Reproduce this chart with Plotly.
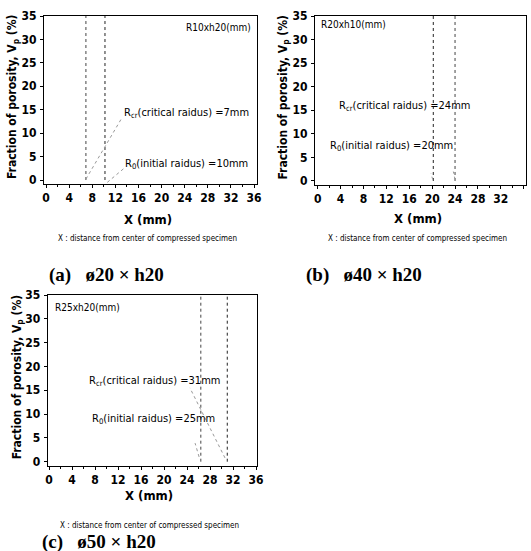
import plotly.graph_objects as go

# ---------------- data ----------------
panel_ids = ["a", "b", "c"]
specimen_labels = ["R10xh20(mm)", "R20xh10(mm)", "R25xh20(mm)"]
captions = ["(a)\u00a0\u00a0\u00a0ø20\u00a0×\u00a0h20", "(b)\u00a0\u00a0\u00a0ø40\u00a0×\u00a0h20",
            "(c)\u00a0\u00a0\u00a0ø50\u00a0×\u00a0h20"]
critical_radius = [7, 24, 31]      # mm, from the labels
initial_radius = [10, 20, 25]      # mm, from the labels
# positions of the dotted vertical lines as drawn
critical_line_x = [6.9, 24.0, 26.4]
initial_line_x = [10.2, 20.2, 31.0]
line_y = [0, 35]
# leader lines (x pairs, y pairs) for Rcr and R0 labels
rcr_leader_x = [[6.9, 13.0], [24.0, 23.7], [30.6, 24.5]]
rcr_leader_y = [[0.2, 13.0], [0.3, 2.0], [0.8, 15.5]]
r0_leader_x = [[10.6, 13.6], [20.1, 19.8], [26.1, 25.4]]
r0_leader_y = [[-0.5, 2.6], [0.3, 1.6], [1.0, 3.9]]
# label anchor positions (data units)
rcr_text_pos = [(13.1, 14.3), (3.4, 15.9), (6.6, 17.0)]
r0_text_pos = [(13.3, 3.4), (1.8, 7.4), (7.1, 9.0)]
spec_text_pos = [(35.8, 32.6, "right"), (0.2, 33.1, "left"), (0.7, 32.3, "left")]

x_ticks = [0, 4, 8, 12, 16, 20, 24, 28, 32, 36]
y_ticks = [0, 5, 10, 15, 20, 25, 30, 35]

# ---------------- layout geometry ----------------
W, H = 531, 551
# pixel boxes of the plotting areas: (left, right, top, bottom)
boxes = [(44, 257, 16, 184), (315, 526, 16, 185), (47.7, 257, 295, 465.7)]
x_ranges = [[-0.35, 36.5], [-0.47, 36.4], [-0.23, 36.17]]
y_ranges = [[-0.85, 35], [-0.85, 35], [-0.84, 35]]
ytitle_px = [13, 284, 18]
xtitle_py = [220, 218, 495]
sub_py = [239, 239, 525]
caption_pos = [(106, 275), (364, 275), (99, 542)]

NARROW = "Liberation Sans Narrow, Arial Narrow, DejaVu Sans Condensed, sans-serif"
SERIF = "Liberation Serif, Times New Roman, serif"

fig = go.Figure()
layout = dict(
    width=W, height=H, margin=dict(l=0, r=0, t=0, b=0, pad=0, autoexpand=False),
    paper_bgcolor="white", plot_bgcolor="white", showlegend=False,
)
annotations = []

def px2paper_x(p):
    return p / W

def px2paper_y(p):
    return 1 - p / H

for i, pid in enumerate(panel_ids):
    sfx = "" if i == 0 else str(i + 1)
    xa, ya = "x" + sfx, "y" + sfx
    l, r, t, b = boxes[i]
    layout["xaxis" + sfx] = dict(
        domain=[px2paper_x(l), px2paper_x(r)], range=x_ranges[i], anchor=ya,
        automargin=False,
        tickvals=x_ticks, ticks="outside", ticklen=3, tickwidth=1, tickcolor="black",
        showgrid=False, zeroline=False, showline=True, linecolor="black", linewidth=1,
        mirror=True, tickfont=dict(family=NARROW, size=12, color="black", weight="bold"),
        minor=dict(dtick=2, tick0=0, ticks="outside", ticklen=2, tickcolor="black"),
    )
    layout["yaxis" + sfx] = dict(
        domain=[px2paper_y(b), px2paper_y(t)], range=y_ranges[i], anchor=xa,
        automargin=False,
        tickvals=y_ticks, ticks="outside", ticklen=3, tickwidth=1, tickcolor="black",
        showgrid=False, zeroline=False, showline=True, linecolor="black", linewidth=1,
        mirror=True, tickfont=dict(family=NARROW, size=12, color="black", weight="bold"),
        ticklabelstandoff=1,
    )
    # vertical dotted lines
    for xv, col in ((critical_line_x[i], "#444"), (initial_line_x[i], "#222")):
        fig.add_trace(go.Scatter(x=[xv, xv], y=line_y, mode="lines", xaxis=xa, yaxis=ya,
                                 line=dict(color=col, width=1, dash="dot"), hoverinfo="skip"))
    # leaders
    for lx, ly in ((rcr_leader_x[i], rcr_leader_y[i]), (r0_leader_x[i], r0_leader_y[i])):
        fig.add_trace(go.Scatter(x=lx, y=ly, mode="lines", xaxis=xa, yaxis=ya,
                                 line=dict(color="#999", width=1, dash="dot"), hoverinfo="skip"))
    # labels
    sx, sy, anc = spec_text_pos[i]
    annotations.append(dict(x=sx, y=sy, xref=xa, yref=ya, text=specimen_labels[i],
                            showarrow=False, xanchor=anc, yanchor="middle",
                            font=dict(family=NARROW, size=10, color="black")))
    rx, ry = rcr_text_pos[i]
    annotations.append(dict(x=rx, y=ry, xref=xa, yref=ya,
                            text=f"R<sub>cr</sub>(critical raidus) ={critical_radius[i]}mm",
                            showarrow=False, xanchor="left", yanchor="middle",
                            font=dict(family=NARROW, size=11, color="black")))
    ox, oy = r0_text_pos[i]
    annotations.append(dict(x=ox, y=oy, xref=xa, yref=ya,
                            text=f"R<sub>0</sub>(initial raidus) ={initial_radius[i]}mm",
                            showarrow=False, xanchor="left", yanchor="middle",
                            font=dict(family=NARROW, size=11, color="black")))
    # y title
    annotations.append(dict(x=px2paper_x(ytitle_px[i]), y=px2paper_y((t + b) / 2 - 3),
                            xref="paper", yref="paper", textangle=-90,
                            text="Fraction of porosity, V<sub>p</sub> (%)", showarrow=False,
                            xanchor="center", yanchor="middle",
                            font=dict(family=NARROW, size=12, color="black", weight="bold")))
    # x title
    cx = (l + r) / 2
    annotations.append(dict(x=px2paper_x(cx - 3), y=px2paper_y(xtitle_py[i]),
                            xref="paper", yref="paper", text="X (mm)", showarrow=False,
                            xanchor="center", yanchor="middle",
                            font=dict(family=NARROW, size=13, color="black", weight="bold")))
    annotations.append(dict(x=px2paper_x(cx - 3), y=px2paper_y(sub_py[i]),
                            xref="paper", yref="paper",
                            text="X : distance from center of compressed specimen",
                            showarrow=False, xanchor="center", yanchor="middle", borderpad=0,
                            font=dict(family=NARROW, size=8, color="black")))
    # caption
    cpx, cpy = caption_pos[i]
    annotations.append(dict(x=px2paper_x(cpx), y=px2paper_y(cpy), xref="paper", yref="paper",
                            text=captions[i], showarrow=False, xanchor="center",
                            yanchor="middle", borderpad=0,
                            font=dict(family=SERIF, size=19, color="black", weight="bold")))

layout["annotations"] = annotations
fig.update_layout(**layout)
fig.write_html("out.html", config={"displayModeBar": False},
               post_script="document.body.style.margin='0';document.body.style.overflow='hidden';")
